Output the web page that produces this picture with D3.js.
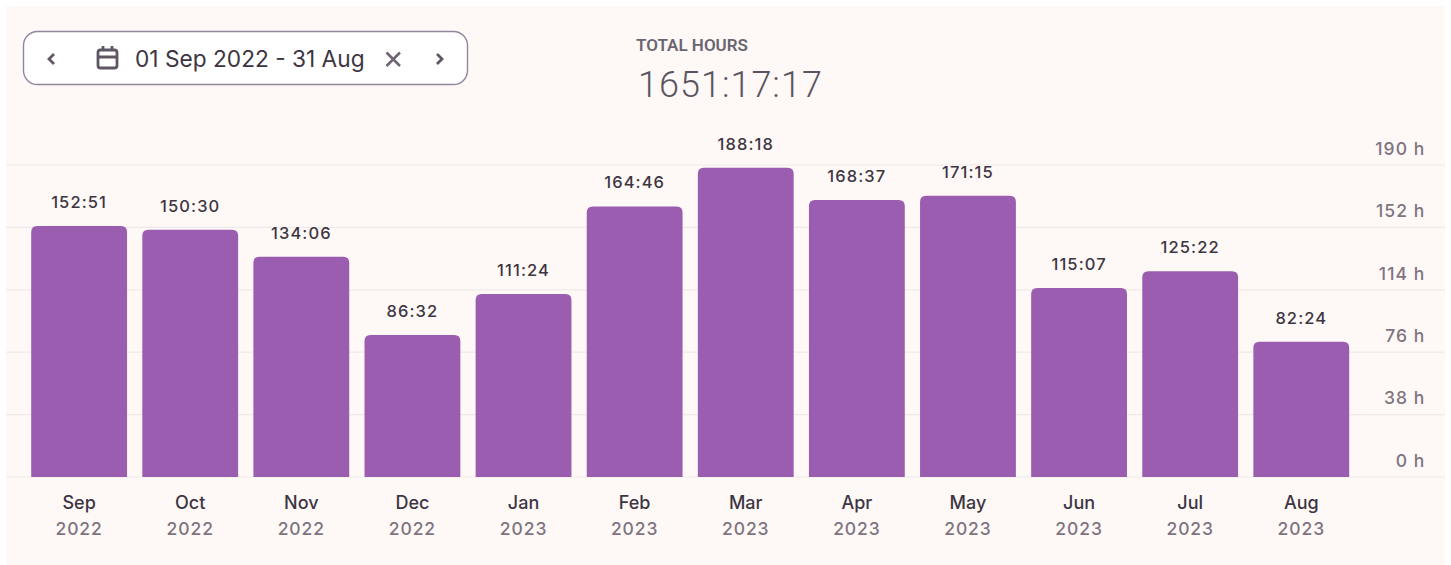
<!DOCTYPE html>
<html>
<head>
<meta charset="utf-8">
<script src="https://cdn.jsdelivr.net/npm/d3@7"></script>
<style>
    html, body { margin: 0; padding: 0; background: #fff; }
    svg { display: block; }
    text { font-family: Inter, "Noto Sans", sans-serif; }
</style>
</head>
<body>
<script>
var months = ["Sep", "Oct", "Nov", "Dec", "Jan", "Feb", "Mar", "Apr", "May", "Jun", "Jul", "Aug"];
var years = ["2022", "2022", "2022", "2022", "2023", "2023", "2023", "2023", "2023", "2023", "2023", "2023"];
var labels = ["152:51", "150:30", "134:06", "86:32", "111:24", "164:46", "188:18", "168:37", "171:15", "115:07", "125:22", "82:24"];
var hours = [152.85, 150.5, 134.1, 86.53, 111.4, 164.77, 188.3, 168.62, 171.25, 115.12, 125.37, 82.4];
var yTicks = [0, 38, 76, 114, 152, 190];

var width = 1451, height = 565;
var svg = d3.select("body").append("svg").attr("width", width).attr("height", height);

// panel
svg.append("rect").attr("x", 6).attr("y", 6).attr("width", 1439).attr("height", 559).attr("fill", "#fef9f7");

var x = d3.scaleBand().domain(d3.range(months.length)).range([31.2, 1349.2]).paddingInner(0.1375).paddingOuter(0);
var y = d3.scaleLinear().domain([0, 190]).range([477, 165]);

// grid + right axis
var axis = svg.append("g")
    .attr("transform", "translate(6,0)")
    .call(d3.axisRight(y).tickValues(yTicks).tickSize(1439).offset(0).tickFormat(function(d) { return d + " h"; }));
axis.select(".domain").remove();
axis.selectAll("line").attr("stroke", "#efeae8").attr("stroke-width", 1.2);
axis.selectAll("text")
    .attr("x", 1419.5).attr("dy", -15).attr("dominant-baseline", "middle")
    .attr("text-anchor", "end")
    .style("font-size", "17.5px").style("letter-spacing", "1.1px").style("font-weight", 500)
    .attr("fill", "#7f7480");

// bars, only the top corners rounded
function barPath(i) {
    var x0 = x(i), x1 = x0 + x.bandwidth(), y0 = y(hours[i]), y1 = y(0), r = 6;
    return "M" + x0 + "," + y1 + "V" + (y0 + r) + "Q" + x0 + "," + y0 + " " + (x0 + r) + "," + y0 +
        "H" + (x1 - r) + "Q" + x1 + "," + y0 + " " + x1 + "," + (y0 + r) + "V" + y1 + "Z";
}
svg.append("g").selectAll("path").data(d3.range(months.length)).enter().append("path")
    .attr("d", barPath)
    .attr("fill", "#9a5db0");

function center(i) { return x(i) + x.bandwidth() / 2; }

svg.append("g").selectAll("text").data(labels).enter().append("text")
    .attr("x", function(d, i) { return center(i); })
    .attr("y", function(d, i) { return y(hours[i]) - 22.5; })
    .attr("dominant-baseline", "middle").attr("text-anchor", "middle")
    .style("font-size", "16.5px").style("letter-spacing", "1.1px").style("font-weight", 500)
    .attr("fill", "#3d3542")
    .text(function(d) { return d; });

svg.append("g").selectAll("text").data(months).enter().append("text")
    .attr("x", function(d, i) { return center(i); })
    .attr("y", 504).attr("dominant-baseline", "middle").attr("text-anchor", "middle")
    .style("font-size", "18px").style("font-weight", 500)
    .attr("fill", "#3d3542")
    .text(function(d) { return d; });

svg.append("g").selectAll("text").data(years).enter().append("text")
    .attr("x", function(d, i) { return center(i); })
    .attr("y", 530).attr("dominant-baseline", "middle").attr("text-anchor", "middle")
    .style("font-size", "17.5px").style("letter-spacing", "0.9px").style("font-weight", 500)
    .attr("fill", "#7f7480")
    .text(function(d) { return d; });

// totals
svg.append("text").attr("x", 636).attr("y", 47).attr("dominant-baseline", "middle")
    .style("font-family", "Roboto").style("font-size", "17px").style("font-weight", 600)
    .attr("fill", "#6b6570").text("TOTAL HOURS");
svg.append("text").attr("x", 638).attr("y", 87).attr("dominant-baseline", "middle")
    .style("font-family", "Roboto").style("font-weight", 300).style("font-size", "36px").style("letter-spacing", "1px")
    .attr("fill", "#5a5460").text("1651:17:17");

// date picker
var picker = svg.append("g");
picker.append("rect").attr("x", 23.5).attr("y", 31.5).attr("width", 444).attr("height", 53).attr("rx", 14)
    .attr("fill", "#fff").attr("stroke", "#92869b").attr("stroke-width", 1.4);
picker.append("path").attr("d", "M54,54L49,59L54,64").attr("fill", "none").attr("stroke", "#5f5666").attr("stroke-width", 2.8);
picker.append("path").attr("d", "M437,54L442,59L437,64").attr("fill", "none").attr("stroke", "#5f5666").attr("stroke-width", 2.8);
picker.append("path").attr("d", "M386.5,52.5L400,66M400,52.5L386.5,66").attr("fill", "none").attr("stroke", "#6f6675").attr("stroke-width", 2.6);
picker.append("rect").attr("x", 98).attr("y", 50).attr("width", 19).attr("height", 18).attr("rx", 2.5)
    .attr("fill", "none").attr("stroke", "#5f5666").attr("stroke-width", 2.8);
picker.append("path").attr("d", "M98,57H117M103,46V51M112,46V51").attr("fill", "none").attr("stroke", "#5f5666").attr("stroke-width", 2.8);
picker.append("text").attr("x", 135).attr("y", 61).attr("dominant-baseline", "middle")
    .style("font-size", "22.7px").attr("fill", "#3d3542").text("01 Sep 2022 - 31 Aug");
</script>
</body>
</html>
